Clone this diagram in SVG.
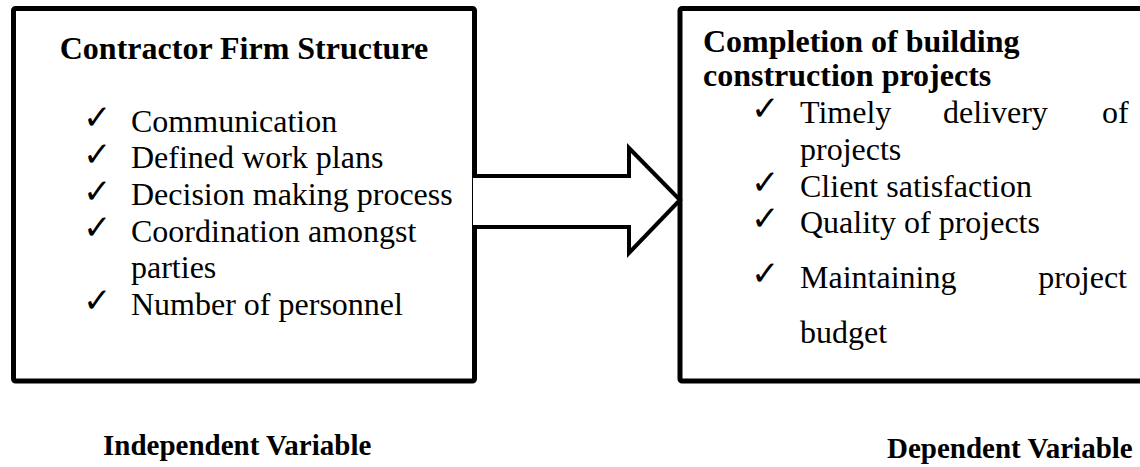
<svg xmlns="http://www.w3.org/2000/svg" width="1140" height="467" viewBox="0 0 1140 467">
<style>
.box{fill:#fff;stroke:#000;stroke-width:5;stroke-linejoin:round}
.t{font-family:"Liberation Serif","Times New Roman",serif;font-size:32px;fill:#000}
.b{font-weight:bold}
.l{font-size:29px}
.ck{font-family:"DejaVu Sans",sans-serif;font-size:34px;fill:#000}
.arrow{fill:#fff;stroke:#000;stroke-width:4;stroke-linejoin:miter}
</style>
<rect width="1140" height="467" fill="#fff"/>
<g id="independent">
<rect class="box" x="13.5" y="8.5" width="461" height="372.5" rx="2"/>
<text class="t b" x="244" y="59" text-anchor="middle">Contractor Firm Structure</text>
<text class="ck" x="83" y="129">✓</text><text class="t" x="131" y="132">Communication</text>
<text class="ck" x="83" y="166">✓</text><text class="t" x="131" y="168">Defined work plans</text>
<text class="ck" x="83" y="203">✓</text><text class="t" x="131" y="205">Decision making process</text>
<text class="ck" x="83" y="239">✓</text><text class="t" x="131" y="242">Coordination amongst</text>
<text class="t" x="131" y="278">parties</text>
<text class="ck" x="83" y="312">✓</text><text class="t" x="131" y="315">Number of personnel</text>
</g>
<g id="dependent">
<rect class="box" x="680" y="8.5" width="480" height="372.5" rx="2"/>
<text class="t b" x="703" y="52">Completion of building</text>
<text class="t b" x="703" y="86">construction projects</text>
<text class="ck" x="751" y="120">✓</text><text class="t" x="800" y="123">Timely</text><text class="t" x="943" y="123">delivery</text><text class="t" x="1102" y="123">of</text>
<text class="t" x="800" y="160">projects</text>
<text class="ck" x="751" y="194">✓</text><text class="t" x="800" y="197">Client satisfaction</text>
<text class="ck" x="751" y="230">✓</text><text class="t" x="800" y="233">Quality of projects</text>
<text class="ck" x="751" y="285">✓</text><text class="t" x="800" y="288">Maintaining</text><text class="t" x="1127" y="288" text-anchor="end">project</text>
<text class="t" x="800" y="343">budget</text>
</g>
<g id="connectors">
<path class="arrow" d="M473,176 H629 V148 L680,200 L629,253 V227 H473"/>
</g>
<g id="labels">
<text class="t b l" x="103" y="455">Independent Variable</text>
<text class="t b l" x="887" y="458">Dependent Variable</text>
</g>
</svg>
